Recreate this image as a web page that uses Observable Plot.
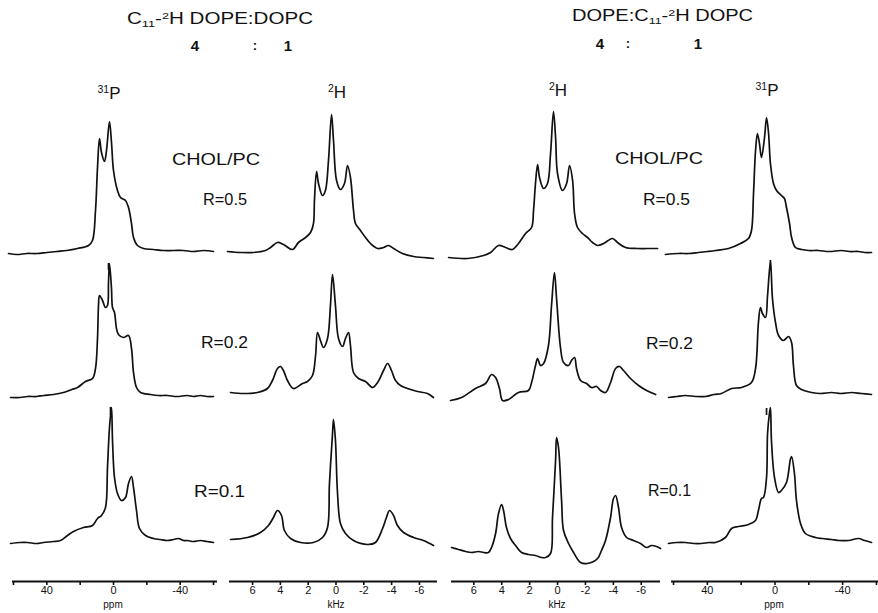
<!DOCTYPE html>
<html><head><meta charset="utf-8">
<script src="https://cdn.jsdelivr.net/npm/d3@7"></script>
<script src="https://cdn.jsdelivr.net/npm/@observablehq/plot@0.6"></script>
<style>
html,body{margin:0;padding:0;background:#fff;}
#fig{position:relative;width:878px;height:613px;overflow:hidden;font-family:"Liberation Sans",Arial,sans-serif;color:#111;}
.lbl{position:absolute;white-space:nowrap;line-height:1;}
.lbl sub{font-size:0.62em;vertical-align:-0.3em;line-height:0;}
.lbl sup{font-size:0.62em;vertical-align:0.55em;line-height:0;}
.panel{position:absolute;top:100px;}
</style></head><body><div id="fig"></div><script>
// ---------- data ----------
const ROWS = ["R=0.5", "R=0.2", "R=0.1"];
const P31_TICKS = [60, 40, 20, 0, -20, -40, -60];
const P31_LABELLED = [40, 0, -40];
const H2_TICKS = [6, 4, 2, 0, -2, -4, -6];

// 31P, C11-2H DOPE:DOPC (left) — [ppm, intensity]
const P31L_05 = [[63,-1],[58,-2],[52,-1],[46,-1],[40,0],[34,1],[28,2],[21.6,4],[15,7],[12.6,12],[10.8,42],[9.6,85],[8.4,114],[7.2,100],[5.4,91],[4.2,102],[2.4,131],[1.2,110],[0,82],[-2.4,62],[-4.2,55],[-7.2,52],[-9,45],[-10.8,29],[-12,15],[-14.4,7],[-18,4],[-24,3],[-30,2],[-36,2],[-42,2],[-48,1],[-54,2],[-60,1]];
const P31L_02 = [[61.8,0],[56,0],[51.6,1],[46,1],[42,2],[36,3],[30,5],[25,8],[21.6,10],[16.8,16],[12.6,19],[10.8,29],[9.6,59],[9,92],[8.4,102],[6.6,97],[4.8,90],[3.6,92],[3,115],[2.4,134],[1.2,109],[0.6,90],[-0.6,85],[-1.8,69],[-3,63],[-6,60],[-9,62],[-10.8,49],[-12,25],[-13.8,10],[-16.2,5],[-22.2,3],[-27,2],[-32.4,2],[-38,1],[-44.4,2],[-48,1],[-52.2,2],[-56,1],[-60,1]];
const P31L_01 = [[61.8,-1],[56,0],[51.6,0],[46,-1],[42,0],[36,1],[31.8,2],[27.6,7],[24,11],[18,15],[12.6,17],[9.6,24],[7.2,27],[4.8,35],[3.6,75],[2.4,115],[1.2,135],[0.6,102],[-0.6,65],[-2.4,49],[-4.8,42],[-7.2,45],[-9,59],[-10.8,66],[-12,55],[-13.8,32],[-15.6,14],[-19.2,7],[-24,4],[-28,3],[-32.4,2],[-36,3],[-39,4],[-42,2],[-44.4,2],[-48,1],[-52.2,2],[-56,1],[-60,0]];

// 2H, C11-2H DOPE:DOPC (left) — [kHz, intensity]
const H2L_05 = [[7.81,1],[6.87,0],[5.94,0],[5.07,2],[4.71,5],[4.21,10],[3.78,8],[3.13,3],[2.7,10],[2.19,15],[1.83,20],[1.62,29],[1.55,52],[1.4,81],[1.26,69],[0.97,57],[0.76,62],[0.54,92],[0.32,138],[0.18,112],[-0.04,72],[-0.32,63],[-0.61,69],[-0.83,87],[-1.04,75],[-1.26,42],[-1.4,29],[-1.76,22],[-2.12,15],[-2.48,9],[-2.99,4],[-3.42,5],[-3.78,7],[-4.14,4],[-4.78,-1],[-5.58,-4],[-6.29,-5],[-7.01,-6]];
const H2L_02 = [[7.59,5],[6.65,4],[5.65,5],[4.93,9],[4.57,17],[4.21,29],[3.99,31],[3.78,27],[3.49,17],[3.06,9],[2.41,14],[2.05,16],[1.69,22],[1.47,42],[1.33,65],[1.12,57],[0.9,50],[0.61,59],[0.4,92],[0.25,123],[0.04,92],[-0.18,59],[-0.47,51],[-0.68,59],[-0.9,65],[-1.04,52],[-1.26,25],[-1.62,19],[-2.12,16],[-2.63,10],[-2.99,15],[-3.42,27],[-3.71,34],[-3.99,27],[-4.28,17],[-4.64,12],[-5.14,9],[-5.86,6],[-6.58,4],[-7.01,0]];
const H2L_01 = [[7.59,3],[6.37,5],[5.43,10],[4.86,17],[4.5,25],[4.21,32],[3.92,27],[3.71,12],[3.27,4],[2.55,0],[1.62,0],[0.97,5],[0.61,15],[0.47,59],[0.25,109],[0.18,123],[0.04,102],[-0.11,49],[-0.32,19],[-0.68,9],[-1.26,2],[-2.27,-2],[-2.84,0],[-3.35,14],[-3.63,25],[-3.85,32],[-4.14,27],[-4.42,17],[-4.86,10],[-5.58,5],[-6.29,2],[-7.01,-3]];

// 2H, DOPE:C11-2H DOPC (right) — [kHz, intensity]
const H2R_05 = [[7.81,-5],[6.45,-6],[5.3,-3],[4.8,0],[4.23,7],[3.73,5],[3.23,3],[2.8,9],[2.29,19],[1.86,25],[1.72,42],[1.58,69],[1.43,88],[1.29,75],[1,64],[0.72,69],[0.5,99],[0.29,141],[0.14,115],[0,79],[-0.36,62],[-0.65,69],[-0.86,87],[-1.08,72],[-1.22,39],[-1.43,25],[-1.79,19],[-2.15,15],[-2.51,10],[-2.87,7],[-3.3,9],[-3.94,14],[-4.3,10],[-4.87,5],[-5.73,4],[-6.45,4],[-7.17,4]];
const H2R_02 = [[7.67,-3],[6.88,0],[5.88,9],[5.16,14],[4.73,23],[4.44,20],[4.16,9],[3.94,-3],[3.51,-2],[2.8,5],[2.08,7],[1.86,15],[1.58,32],[1.43,39],[1.22,32],[1,34],[0.65,52],[0.43,92],[0.22,125],[0.07,99],[-0.22,49],[-0.43,35],[-0.79,32],[-1,37],[-1.22,40],[-1.36,29],[-1.65,17],[-2.08,14],[-2.44,10],[-2.8,11],[-3.08,7],[-3.44,5],[-3.8,15],[-4.16,29],[-4.44,31],[-4.73,27],[-5.23,19],[-5.81,12],[-6.38,7],[-7.03,3]];
const H2R_01 = [[7.6,-5],[7.1,-7],[6.59,-9],[6.16,-10],[5.66,-9],[5.3,-10],[4.95,-10],[4.73,-5],[4.44,9],[4.23,29],[4.01,38],[3.87,32],[3.66,15],[3.37,4],[3.01,-3],[2.58,-10],[2.08,-12],[1.58,-13],[1.15,-15],[0.86,-15],[0.5,-11],[0.36,25],[0.14,82],[0.07,105],[-0.07,95],[-0.29,42],[-0.43,12],[-0.79,-1],[-1.15,-10],[-1.65,-20],[-2.15,-21],[-2.87,-16],[-3.15,-8],[-3.44,2],[-3.8,25],[-4.01,44],[-4.16,47],[-4.37,35],[-4.59,15],[-4.95,5],[-5.45,2],[-5.95,-1],[-6.38,-5],[-6.74,-3],[-7.1,-4],[-7.38,-6]];

// 31P, DOPE:C11-2H DOPC (right) — [ppm, intensity]
const P31R_05 = [[64.8,-2],[57.1,-1],[51,-1],[45.3,0],[40,1],[35.2,2],[27.5,4],[20.4,9],[15.7,14],[13.9,22],[12.7,59],[11.5,102],[10.4,119],[9.2,109],[8,95],[6.2,115],[5,135],[3.8,119],[2.7,89],[0.9,69],[-0.9,62],[-3.8,57],[-5.6,54],[-6.8,45],[-8.6,29],[-9.8,15],[-12.1,5],[-15.7,3],[-20,2],[-25.7,2],[-32,1],[-39.3,2],[-44,1],[-49.4,1],[-53,0],[-57.1,0]];
const P31R_02 = [[63,0],[58,1],[53,2],[47,1],[41.1,1],[36,3],[31.7,4],[25.7,9],[19.8,10],[13.9,15],[11.5,29],[9.8,75],[8.6,90],[7.4,84],[5.6,80],[4.4,102],[2.7,136],[1.5,99],[-0.3,75],[-2.1,62],[-5,57],[-8,61],[-9.8,55],[-10.9,32],[-12.7,12],[-15.7,8],[-21.6,5],[-27,4],[-33.4,5],[-39,4],[-45.3,5],[-51,4],[-57.1,3]];
const P31R_01 = [[63,-1],[58,0],[53,0],[48,-1],[43.5,-1],[39,0],[35.2,0],[29.3,5],[25.7,14],[21.6,16],[15.7,18],[11.5,22],[9.8,32],[8,44],[6.8,45],[5,65],[4.4,109],[3.3,129],[2.7,135],[2.1,102],[0.3,65],[-2.1,50],[-3.8,52],[-6.8,60],[-9.2,84],[-9.8,86],[-11.5,69],[-12.7,42],[-15.1,19],[-18,9],[-24,5],[-28,4],[-33.4,3],[-38,2],[-43.5,2],[-49.4,4],[-53,2],[-57.1,0]];

// small isotropic-position marks under the 31P spectra — [row, ppm, lower, upper]
const P31L_MARKS = [{row:"R=0.5", x:3.0, lo:-18, hi:-11}, {row:"R=0.2", x:1.8, lo:-18, hi:-10}];
const P31R_MARKS = [{row:"R=0.5", x:2.7, lo:-18, hi:-8}, {row:"R=0.2", x:5.0, lo:-18, hi:-11}];

// ---------- drawing ----------
const FONT = '"Liberation Sans", Arial, sans-serif';
const Y_DOMAIN = [-39, 106];
const fig = document.getElementById("fig");

function panel({left, width, mL, mR, domain, ticks, fmt, spectra, marks}) {
  const data = spectra.flatMap((s, i) => s.map(([x, y]) => ({x, y, row: ROWS[i]})));
  const plot = Plot.plot({
    width, height: 513, marginTop: 46, marginBottom: 32, marginLeft: mL, marginRight: mR,
    style: {background: "transparent", overflow: "visible", fontFamily: FONT, fontSize: "11px", color: "#111"},
    x: {domain},
    y: {domain: Y_DOMAIN, axis: null},
    fy: {domain: ROWS, axis: null, padding: 0},
    marks: [
      Plot.line(data, {x: "x", y: "y", fy: "row", stroke: "#111", strokeWidth: 1.7, curve: "catmull-rom"}),
      Plot.ruleX(marks, {x: "x", y1: "lo", y2: "hi", fy: "row", stroke: "#111", strokeWidth: 1.7}),
      Plot.ruleY([{row: ROWS[2]}], {fy: "row", y: () => Y_DOMAIN[0], stroke: "#111", strokeWidth: 1.8}),
      Plot.axisX({ticks, tickFormat: fmt, tickSize: 4, tickPadding: 1, strokeWidth: 1.6, label: null})
    ]
  });
  plot.classList.add("panel");
  plot.style.left = left + "px";
  fig.appendChild(plot);
}

const p31fmt = d => P31_LABELLED.includes(d) ? String(d) : "";
const h2fmt = d => String(d);

panel({left: 0, width: 222, mL: 12, mR: 5, domain: [60.6, -62.4], ticks: P31_TICKS, fmt: p31fmt, spectra: [P31L_05, P31L_02, P31L_01], marks: P31L_MARKS});
panel({left: 222, width: 218, mL: 7, mR: 3, domain: [7.66, -7.3], ticks: H2_TICKS, fmt: h2fmt, spectra: [H2L_05, H2L_02, H2L_01], marks: []});
panel({left: 440, width: 224, mL: 11, mR: 4, domain: [7.6, -7.38], ticks: H2_TICKS, fmt: h2fmt, spectra: [H2R_05, H2R_02, H2R_01], marks: []});
panel({left: 664, width: 214, mL: 7, mR: 0, domain: [61.2, -61.2], ticks: P31_TICKS, fmt: p31fmt, spectra: [P31R_05, P31R_02, P31R_01], marks: P31R_MARKS});

// ---------- text ----------
// pos: {left, right} stretches the text horizontally to span that width; {cx} centres it.
function place(html, pos, cy, fs, weight) {
  const el = document.createElement("div");
  el.className = "lbl";
  el.innerHTML = html;
  el.style.fontSize = fs + "px";
  el.style.fontWeight = weight || "normal";
  fig.appendChild(el);
  const w = el.getBoundingClientRect().width;
  if (pos.right != null) {
    el.style.left = pos.left + "px";
    el.style.transformOrigin = "0 50%";
    el.style.transform = "scaleX(" + ((pos.right - pos.left) / w) + ")";
  } else {
    el.style.left = (pos.cx - w / 2) + "px";
  }
  el.style.top = (cy - 0.49 * fs) + "px";
}

place('C<sub>11</sub>-<sup>2</sup>H DOPE:DOPC', {left: 127, right: 313}, 19, 16);
place('4', {cx: 195}, 45, 15, "bold");
place(':', {cx: 255}, 45, 13, "bold");
place('1', {cx: 288}, 45, 15, "bold");
place('DOPE:C<sub>11</sub>-<sup>2</sup>H DOPC', {left: 572, right: 753}, 16, 16);
place('4', {cx: 600}, 43, 15, "bold");
place(':', {cx: 628}, 43, 13, "bold");
place('1', {cx: 698}, 43, 15, "bold");

place('<sup>31</sup>P', {cx: 109}, 93, 17);
place('<sup>2</sup>H', {cx: 337}, 92, 17);
place('<sup>2</sup>H', {cx: 558}, 90, 17);
place('<sup>31</sup>P', {cx: 767}, 90, 17);

place('CHOL/PC', {left: 172, right: 260}, 159.5, 16);
place('R=0.5', {left: 203, right: 247}, 200, 16);
place('R=0.2', {left: 201, right: 248}, 343, 16);
place('R=0.1', {left: 194, right: 245}, 492, 16);
place('CHOL/PC', {left: 615, right: 703}, 159, 16);
place('R=0.5', {left: 643, right: 690}, 199.5, 16);
place('R=0.2', {left: 646, right: 693}, 344, 16);
place('R=0.1', {left: 648, right: 691}, 491, 16);

place('ppm', {cx: 113}, 605, 10);
place('kHz', {cx: 336}, 605, 10);
place('kHz', {cx: 557}, 605, 10);
place('ppm', {cx: 774}, 605, 10);
</script></body></html>
